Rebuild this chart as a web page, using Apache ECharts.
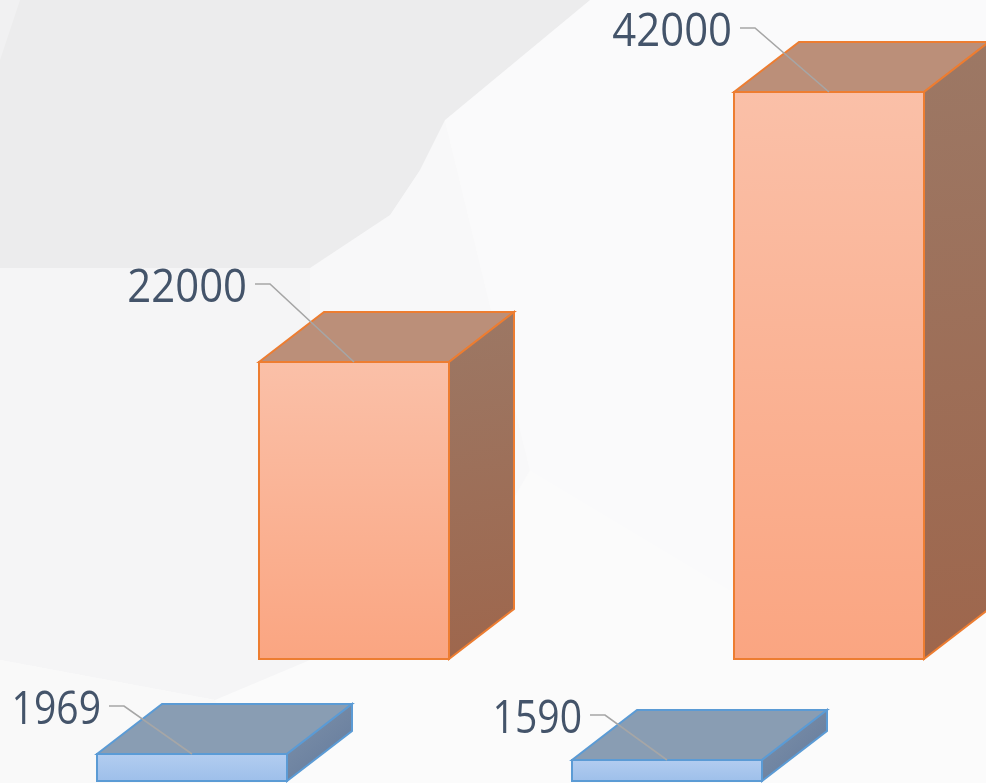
<!DOCTYPE html>
<html>
<head>
<meta charset="utf-8">
<style>
  html, body { margin: 0; padding: 0; background: #fbfbfc; }
  #chart { width: 986px; height: 783px; }
</style>
<script src="https://cdn.jsdelivr.net/npm/echarts@6/dist/echarts.min.js"></script>
</head>
<body>
<div id="chart"></div>
<script>
const categories = ['A', 'B'];
const frontValues = [1969, 1590];
const backValues = [22000, 42000];

const blueStyle = {
  edge: '#5b9bd5', frontTop: '#b3cdf0', frontBottom: '#9dbfea',
  top: '#899db3', sideTop: '#7f93ab', sideBottom: '#62789a',
  leaders: [[-68, -48], [-62, -45]], textScale: 0.85
};
const orangeStyle = {
  edge: '#ed7d31', frontTop: '#fac0a8', frontBottom: '#faa581',
  top: '#bb8f79', sideTop: '#9c7865', sideBottom: '#9e664c',
  leaders: [[-84, -78], [-74, -64]], textScale: 0.91
};

const depthX = 65, depthY = 50, barWidth = 190;

function grad(x2, y2, c1, c2) {
  return new echarts.graphic.LinearGradient(0, 0, x2, y2, [
    { offset: 0, color: c1 },
    { offset: 1, color: c2 }
  ]);
}

function renderBox(s) {
  return function (params, api) {
    const top = api.coord([api.value(0), api.value(1)]);
    const base = api.coord([api.value(0), 0]);
    const l = top[0] - barWidth / 2, r = top[0] + barWidth / 2;
    const t = Math.round(top[1]), b = Math.round(base[1]);
    const line = { stroke: s.edge, lineWidth: 2, lineJoin: 'miter' };
    const elbowX = top[0] + s.leaders[params.dataIndex][0];
    const elbowY = t + s.leaders[params.dataIndex][1];
    return {
      type: 'group',
      children: [
        { type: 'polygon', shape: { points: [[l, t], [l + depthX, t - depthY], [r + depthX, t - depthY], [r, t]] },
          style: { fill: s.top, ...line } },
        { type: 'polygon', shape: { points: [[r, t], [r + depthX, t - depthY], [r + depthX, b - depthY], [r, b]] },
          style: { fill: grad(1, 1, s.sideTop, s.sideBottom), ...line } },
        { type: 'rect', shape: { x: l, y: t, width: barWidth, height: b - t },
          style: { fill: grad(0, 1, s.frontTop, s.frontBottom), ...line } },
        { type: 'polyline', shape: { points: [[top[0], t], [elbowX, elbowY], [elbowX - 15, elbowY]] },
          style: { fill: null, stroke: '#a6a6a6', lineWidth: 1.6 } },
        { type: 'text', x: elbowX - 23, y: elbowY + 4.5, scaleX: s.textScale,
          style: { text: String(api.value(1)), fill: '#44546a', fontSize: 46,
            fontFamily: '"Open Sans", "Noto Sans", sans-serif', fontWeight: 400,
            align: 'right', verticalAlign: 'middle' } }
      ]
    };
  };
}

const chart = echarts.init(document.getElementById('chart'), null, { renderer: 'canvas' });
const hiddenAxis = { show: false };

chart.setOption({
  backgroundColor: '#fbfbfb',
  animation: false,
  graphic: { elements: [
    { type: 'polygon', silent: true, z: -10, shape: { points: [[0, 268], [310, 268], [310, 660], [215, 700], [0, 660]] }, style: { fill: '#f5f5f6' } },
    { type: 'polygon', silent: true, z: -10, shape: { points: [[310, 268], [445, 120], [530, 470], [420, 660], [310, 660]] }, style: { fill: '#f8f8f9' } },
    { type: 'polygon', silent: true, z: -10, shape: { points: [[445, 120], [590, 0], [986, 0], [986, 100], [730, 590], [530, 470]] }, style: { fill: '#fafafb' } },
    { type: 'polygon', silent: true, z: -10, shape: { points: [[0, 660], [215, 700], [260, 783], [0, 783]] }, style: { fill: '#f9f9f9' } },
    { type: 'polygon', silent: true, z: -9, shape: { points: [[0, 0], [590, 0], [445, 120], [420, 170], [390, 215], [310, 268], [0, 268]] }, style: { fill: '#ececed' } },
    { type: 'polygon', silent: true, z: -9, shape: { points: [[0, 0], [20, 0], [0, 60]] }, style: { fill: '#f1f1f2' } }
  ] },
  grid: [
    { left: -45.5, top: 133, width: 950, height: 648, outerBoundsMode: 'none' },
    { left: 116.5, top: 11, width: 950, height: 648, outerBoundsMode: 'none' }
  ],
  xAxis: [
    { ...hiddenAxis, type: 'category', gridIndex: 0, data: categories },
    { ...hiddenAxis, type: 'category', gridIndex: 1, data: categories }
  ],
  yAxis: [
    { ...hiddenAxis, type: 'value', gridIndex: 0, min: 0, max: 48000 },
    { ...hiddenAxis, type: 'value', gridIndex: 1, min: 0, max: 48000 }
  ],
  series: [
    { type: 'custom', name: 'back', xAxisIndex: 1, yAxisIndex: 1, z: 2,
      renderItem: renderBox(orangeStyle), clip: false,
      encode: { x: 0, y: 1 }, data: categories.map((c, i) => [i, backValues[i]]) },
    { type: 'custom', name: 'front', xAxisIndex: 0, yAxisIndex: 0, z: 3,
      renderItem: renderBox(blueStyle), clip: false,
      encode: { x: 0, y: 1 }, data: categories.map((c, i) => [i, frontValues[i]]) }
  ]
});
</script>
</body>
</html>
